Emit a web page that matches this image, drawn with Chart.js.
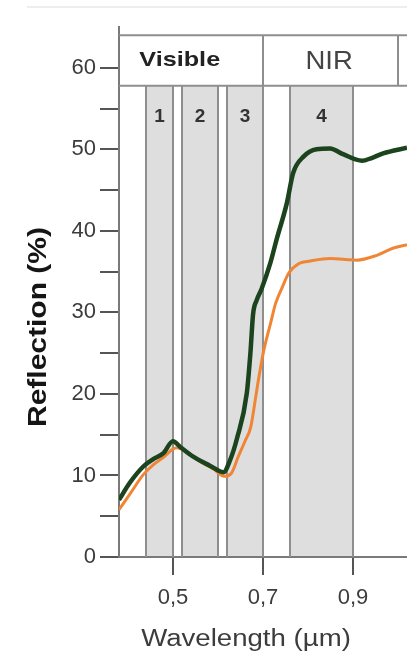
<!DOCTYPE html>
<html><head><meta charset="utf-8">
<script src="https://cdn.jsdelivr.net/npm/chart.js@4/dist/chart.umd.min.js"></script>
<style>html,body{margin:0;padding:0;background:#fff;overflow:hidden}canvas{display:block}</style>
</head><body>
<canvas id="c" width="407" height="655"></canvas>
<script>
// ---- data ----
const wavelengthsGreen = [0.38,0.404,0.434,0.456,0.478,0.50,0.516,0.545,0.582,0.612,0.627,0.642,0.664,0.672,0.678,0.686,0.697,0.716,0.73,0.753,0.767,0.79,0.819,0.849,0.878,0.92,0.94,0.967,1.02];
const reflectGreen     = [7.0,9.1,11.1,12.0,12.7,14.2,13.5,12.3,11.2,10.4,11.9,14.5,20.1,25.0,29.8,31.5,32.9,36.0,38.9,43.4,47.1,49.1,50.0,50.1,49.4,48.6,48.9,49.5,50.2];
const wavelengthsOrange = [0.38,0.404,0.434,0.456,0.478,0.508,0.53,0.56,0.59,0.614,0.63,0.645,0.66,0.673,0.684,0.691,0.702,0.717,0.728,0.743,0.757,0.78,0.805,0.849,0.885,0.908,0.953,0.99,1.02];
const reflectOrange     = [5.8,7.7,10.1,11.3,12.2,13.4,12.9,11.7,10.8,9.9,10.3,12.3,14.2,16.0,19.7,22.1,25.4,28.7,31.1,33.1,34.8,36.0,36.3,36.6,36.5,36.4,37.0,37.9,38.3];
const bandNames = ['1','2','3','4'];
const bandStart = [0.44,0.52,0.62,0.76];
const bandEnd   = [0.50,0.60,0.70,0.90];
const regionNames = ['Visible','NIR',''];
const regionStart = [0.38,0.70,1.00];
const regionEnd   = [0.70,1.00,1.02];
const xTickValues = [0.5,0.7,0.9];
const xTickLabels = ['0,5','0,7','0,9'];
const yTickValues = [0,5,10,15,20,25,30,35,40,45,50,55,60];
const yTickLabels = ['0','','10','','20','','30','','40','','50','','60'];
const xTitle = 'Wavelength (µm)';
const yTitle = 'Reflection (%)';

const FONT = '"Liberation Sans", Arial, sans-serif';
const HEADER_TOP = 64, HEADER_BOTTOM = 57.8;

const decor = {
  id: 'decor',
  beforeDraw(chart){
    const ctx = chart.ctx;
    ctx.save();
    ctx.strokeStyle = '#eeeeee'; ctx.lineWidth = 2;
    ctx.beginPath(); ctx.moveTo(27, 7); ctx.lineTo(chart.width, 7); ctx.stroke();
    ctx.restore();
  },
  beforeDatasetsDraw(chart){
    const {ctx, scales:{x, y}} = chart;
    const top = y.getPixelForValue(HEADER_BOTTOM), bot = y.getPixelForValue(0);
    ctx.save();
    bandStart.forEach((s, i) => {
      const l = x.getPixelForValue(s), r = x.getPixelForValue(bandEnd[i]);
      ctx.fillStyle = '#dedede';
      ctx.fillRect(l, top, r - l, bot - top - 1);
      ctx.strokeStyle = '#8e8e8e'; ctx.lineWidth = 2;
      ctx.beginPath(); ctx.moveTo(l, top); ctx.lineTo(l, bot); ctx.moveTo(r, top); ctx.lineTo(r, bot); ctx.stroke();
      ctx.fillStyle = '#333';
      ctx.font = 'bold 19px ' + FONT;
      ctx.textAlign = 'center'; ctx.textBaseline = 'middle';
      ctx.fillText(bandNames[i], (l + r) / 2, top + 31);
    });
    ctx.restore();
  },
  afterDatasetsDraw(chart){
    const {ctx, chartArea:a, scales:{x, y}} = chart;
    const t = y.getPixelForValue(HEADER_TOP), b = y.getPixelForValue(HEADER_BOTTOM);
    ctx.save();
    ctx.fillStyle = '#fff';
    ctx.fillRect(a.left + 1, t, a.right - a.left, b - t);
    ctx.strokeStyle = '#8e8e8e'; ctx.lineWidth = 2;
    ctx.beginPath();
    ctx.moveTo(a.left, t); ctx.lineTo(a.right, t);
    ctx.moveTo(a.left, b); ctx.lineTo(a.right, b);
    regionEnd.forEach(e => { const px = x.getPixelForValue(e); if (px < a.right - 1) { ctx.moveTo(px, t); ctx.lineTo(px, b); } });
    ctx.stroke();
    const labelAt = [0.515, 0.847];
    const styles = [{f:'bold 21px ', c:'#222', s:1.2, dy:0}, {f:'25px ', c:'#444', s:1.1, dy:2}];
    regionNames.forEach((n, i) => {
      if (!n) return;
      const st = styles[i];
      ctx.save();
      ctx.translate(x.getPixelForValue(labelAt[i]), (t + b) / 2 + st.dy);
      ctx.scale(st.s, 1);
      ctx.font = st.f + FONT; ctx.fillStyle = st.c;
      ctx.textAlign = 'center'; ctx.textBaseline = 'middle';
      ctx.fillText(n, 0, 0);
      ctx.restore();
    });
    ctx.restore();
  },
  afterDraw(chart){
    const ctx = chart.ctx;
    ctx.save();
    ctx.translate(39, 327); ctx.rotate(-Math.PI / 2); ctx.scale(1.2, 1);
    ctx.font = 'bold 25px ' + FONT; ctx.fillStyle = '#151515';
    ctx.textAlign = 'center'; ctx.textBaseline = 'middle';
    ctx.fillText(yTitle, 0, 0);
    ctx.restore();
    ctx.save();
    ctx.translate(246, 640); ctx.scale(1.2, 1);
    ctx.font = '23px ' + FONT; ctx.fillStyle = '#3c3c3c';
    ctx.textAlign = 'center'; ctx.textBaseline = 'middle';
    ctx.fillText(xTitle, 0, 0);
    ctx.restore();
  }
};

new Chart(document.getElementById('c'), {
  type: 'line',
  data: {
    datasets: [
      { data: wavelengthsGreen.map((w, i) => ({x: w, y: reflectGreen[i]})),
        borderColor: '#1b431d', borderWidth: 4.5, pointRadius: 0, cubicInterpolationMode: 'monotone', fill: false },
      { data: wavelengthsOrange.map((w, i) => ({x: w, y: reflectOrange[i]})),
        borderColor: '#ef8535', borderWidth: 3, pointRadius: 0, cubicInterpolationMode: 'monotone', fill: false }
    ]
  },
  options: {
    responsive: false, animation: false, devicePixelRatio: 1,
    layout: { padding: { top: 27, right: 0, bottom: 0, left: 0 } },
    plugins: { legend: { display: false }, tooltip: { enabled: false } },
    scales: {
      x: {
        type: 'linear', min: 0.38, max: 1.02,
        afterBuildTicks: s => { s.ticks = xTickValues.map(v => ({value: v})); },
        afterFit: s => { s.height = 98; },
        grid: { drawOnChartArea: false, drawTicks: true, tickLength: 18, color: '#555', lineWidth: 2 },
        border: { color: '#7a7a7a', width: 2 },
        ticks: { padding: 10, color: '#3c3c3c', font: { family: FONT, size: 22 }, maxRotation: 0,
                 callback: v => xTickLabels[xTickValues.indexOf(v)] }
      },
      y: {
        min: 0, max: 65,
        afterBuildTicks: s => { s.ticks = yTickValues.map(v => ({value: v})); },
        afterFit: s => { s.width = 119; },
        grid: { drawOnChartArea: false, drawTicks: true, tickLength: 19, color: '#555', lineWidth: 2 },
        border: { color: '#7a7a7a', width: 2 },
        ticks: { padding: 4, color: '#3c3c3c', font: { family: FONT, size: 22 },
                 callback: v => yTickLabels[yTickValues.indexOf(v)] }
      }
    }
  },
  plugins: [decor]
});
</script>
</body></html>
